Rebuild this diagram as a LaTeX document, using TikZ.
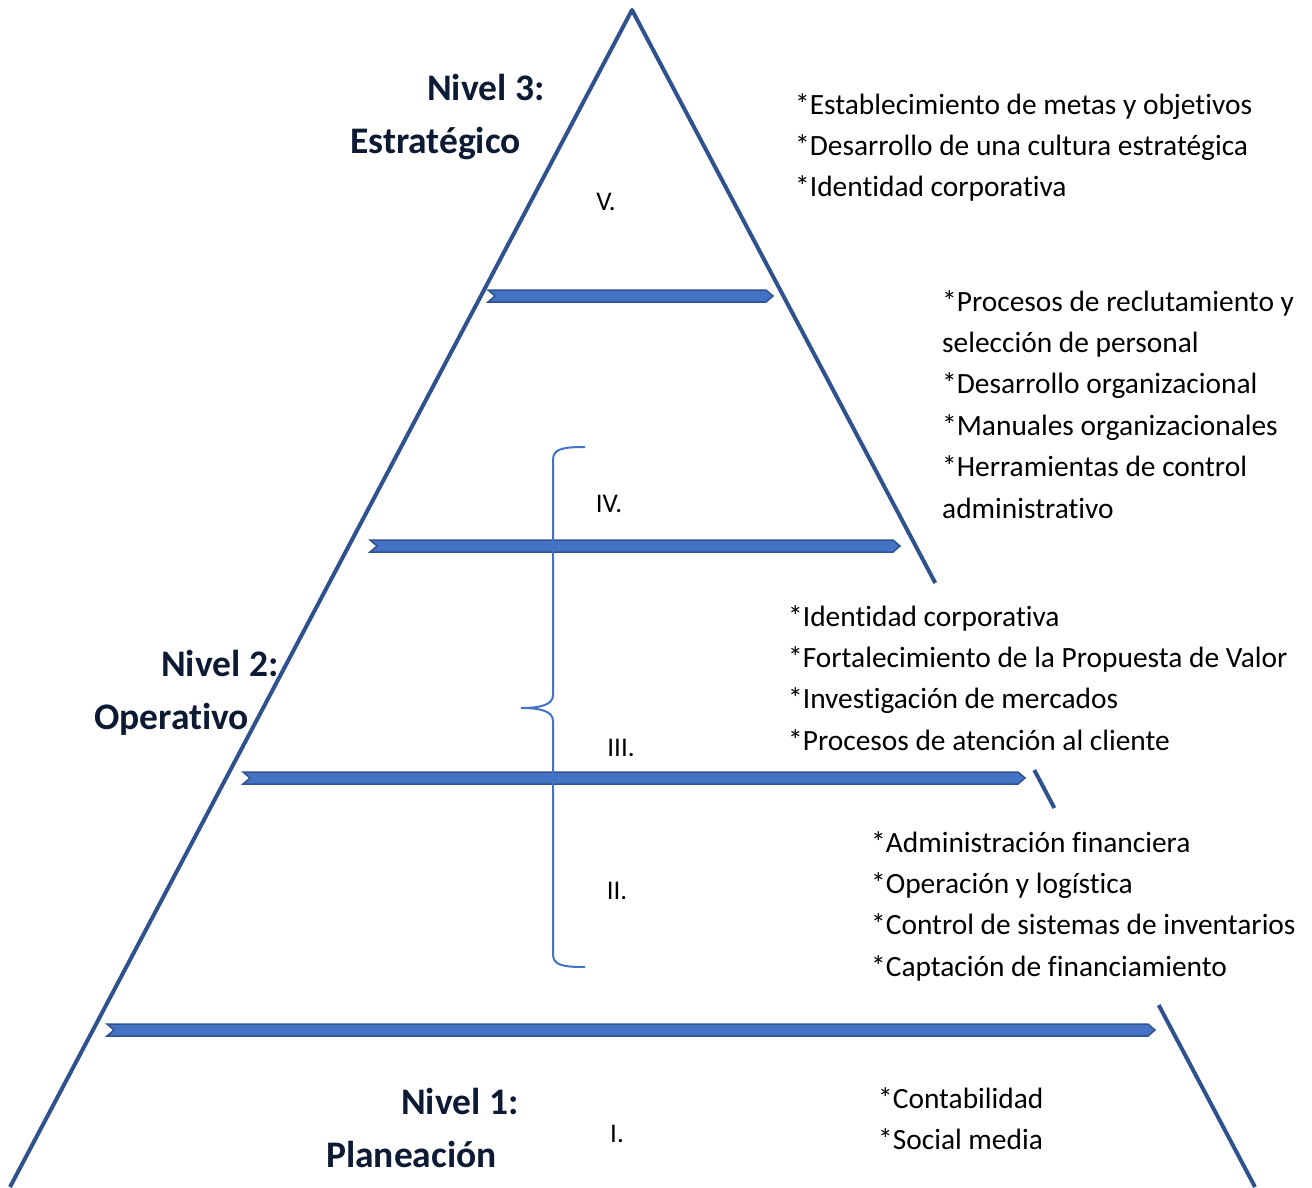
\documentclass[tikz,border=0pt]{standalone}
\usepackage{fontspec}
\setmainfont{Carlito}[Ligatures=NoCommon]
\usetikzlibrary{positioning,calc}
\definecolor{pyrline}{HTML}{2F528F}
\definecolor{barfill}{HTML}{4472C4}
\definecolor{titlecol}{HTML}{0D1A33}
% notched bar: left x, y, right x
\newcommand{\chevbar}[3]{\draw[bar] (#1,#2-6) -- (#3-7,#2-6) -- (#3,#2) -- (#3-7,#2+6) -- (#1,#2+6) -- (#1+7,#2) -- cycle;}

\begin{document}
\begin{tikzpicture}[x=1pt,y=-1pt,node distance=15pt,
  item/.style={inner sep=0pt, anchor=west, text height=20pt, text depth=6pt, font=\fontsize{29.4}{35}\selectfont},
  next/.style={below=of #1.south west, anchor=north west},
  title/.style={inner sep=0pt, anchor=west, text=titlecol, text height=26pt, text depth=8pt, font=\fontsize{37.5}{45}\selectfont\bfseries},
  numeral/.style={inner sep=0pt, text height=20pt, text depth=6pt, font=\fontsize{27}{32}\selectfont},
  side/.style={draw=pyrline, line width=4pt},
  bar/.style={draw=pyrline, fill=barfill, line width=1.5pt},
  brace/.style={draw=barfill, line width=2pt}]

\useasboundingbox (0,0) rectangle (1312,1187);

% pyramid
\coordinate (apex) at (632,10);
\coordinate (bl) at (10,1187);
\coordinate (br) at (1255,1187);
\draw[side, line join=round] (bl) -- (apex) -- ($(apex)!0.4868!(br)$);
\draw[side] ($(apex)!0.6457!(br)$) -- ($(apex)!0.678!(br)$);
\draw[side] ($(apex)!0.8454!(br)$) -- (br);

\chevbar{488}{296}{773}
\chevbar{370}{546}{900}
\chevbar{243}{778}{1025}
\chevbar{107}{1030}{1155}

% brace
\draw[brace] (585,447) .. controls (562,447) and (553,449) .. (553,460) -- (553,695)
  .. controls (553,705) and (540,708) .. (521,708)
  .. controls (540,708) and (553,711) .. (553,721) -- (553,954)
  .. controls (553,965) and (562,967) .. (585,967);

% levels
\node[title] (n3) at (427,91.5) {Nivel 3:};
\node[title] (n3b) at (350,144.5) {Estratégico};
\node[title] (n2) at (161,667.5) {Nivel 2:};
\node[title] (n2b) at (94,720.5) {Operativo};
\node[title] (n1) at (401,1105.5) {Nivel 1:};
\node[title] (n1b) at (326,1158.5) {Planeación};

\node[numeral] (r5) at (606,203) {V.};
\node[numeral] (r4) at (609,505) {IV.};
\node[numeral] (r3) at (621,749) {III.};
\node[numeral] (r2) at (617,892) {II.};
\node[numeral] (r1) at (617,1135) {I.};

% activities
\node[item] (a1) at (795,107) {*Establecimiento de metas y objetivos};
\node[item] (a2) [next=a1] {*Desarrollo de una cultura estratégica};
\node[item] (a3) [next=a2] {*Identidad corporativa};

\node[item] (b1) at (942,304) {*Procesos de reclutamiento y};
\node[item] (b2) [next=b1] {selección de personal};
\node[item] (b3) [next=b2] {*Desarrollo organizacional};
\node[item] (b4) [next=b3] {*Manuales organizacionales};
\node[item] (b5) [next=b4] {*Herramientas de control};
\node[item] (b6) [next=b5] {administrativo};

\node[item] (c1) at (788,619) {*Identidad corporativa};
\node[item] (c2) [next=c1] {*Fortalecimiento de la Propuesta de Valor};
\node[item] (c3) [next=c2] {*Investigación de mercados};
\node[item] (c4) [next=c3] {*Procesos de atención al cliente};

\node[item] (d1) at (871,845) {*Administración financiera};
\node[item] (d2) [next=d1] {*Operación y logística};
\node[item] (d3) [next=d2] {*Control de sistemas de inventarios};
\node[item] (d4) [next=d3] {*Captación de financiamiento};

\node[item] (e1) at (878,1101) {*Contabilidad};
\node[item] (e2) [next=e1] {*Social media};

\end{tikzpicture}
\end{document}
